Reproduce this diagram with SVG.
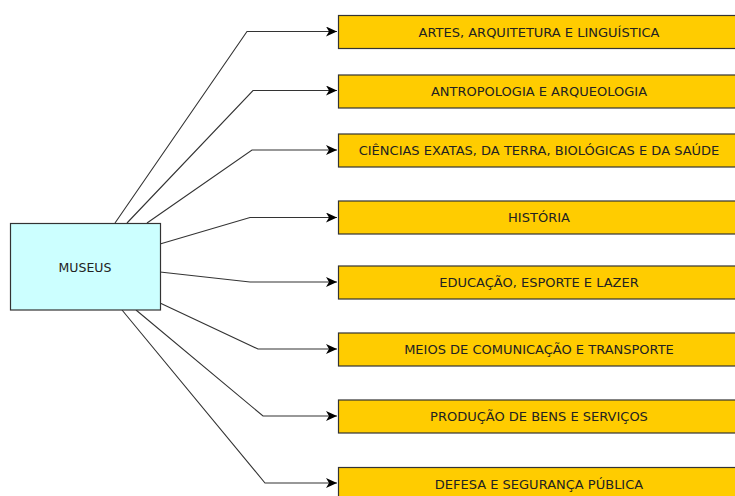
<svg xmlns="http://www.w3.org/2000/svg" width="735" height="496" viewBox="0 0 735 496">
<defs>
<marker id="arr" markerWidth="12" markerHeight="10" viewBox="0 0 12 10" refX="11" refY="5" orient="auto" markerUnits="userSpaceOnUse">
<path d="M0,0 L11,5 L0,10 L3,5 Z" fill="#000"/>
</marker>
<style>
.cat rect{fill:#FFCC00;stroke:#333;stroke-width:1.2}
.cat text,.root text{font-family:"DejaVu Sans","Liberation Sans",sans-serif;font-size:13px;fill:#222;text-anchor:middle;dominant-baseline:central}
.root text{font-size:12.5px}
.root rect{fill:#CCFFFF;stroke:#333;stroke-width:1.2}
#connectors polyline{fill:none;stroke:#333;stroke-width:1.1;marker-end:url(#arr)}
</style>
</defs>
<rect width="735" height="496" fill="#fff"/>
<g id="connectors">
<polyline points="115,223 247,31.5 337,31.5"/>
<polyline points="127,223 253,90.5 337,90.5"/>
<polyline points="147,223 252,150 337,150"/>
<polyline points="160,244 250,217.5 337,217.5"/>
<polyline points="160,272 250,282 337,282"/>
<polyline points="160,303 258,349 337,349"/>
<polyline points="136,310 263,416 337,416"/>
<polyline points="122,310 265,483 337,483"/>
</g>
<g id="museus" class="root"><rect x="10.5" y="223.5" width="150" height="86.5"/><text x="85" y="267">MUSEUS</text></g>
<g id="n1" class="cat"><rect x="338.5" y="15.5" width="400" height="33"/><text x="539" y="32">ARTES, ARQUITETURA E LINGUÍSTICA</text></g>
<g id="n2" class="cat"><rect x="338.5" y="75" width="400" height="33"/><text x="539" y="91.5">ANTROPOLOGIA E ARQUEOLOGIA</text></g>
<g id="n3" class="cat"><rect x="338.5" y="134" width="400" height="33"/><text x="539" y="150.5">CIÊNCIAS EXATAS, DA TERRA, BIOLÓGICAS E DA SAÚDE</text></g>
<g id="n4" class="cat"><rect x="338.5" y="201" width="400" height="33"/><text x="539" y="217.5">HISTÓRIA</text></g>
<g id="n5" class="cat"><rect x="338.5" y="266" width="400" height="33"/><text x="539" y="282.5">EDUCAÇÃO, ESPORTE E LAZER</text></g>
<g id="n6" class="cat"><rect x="338.5" y="333" width="400" height="33"/><text x="539" y="349.5">MEIOS DE COMUNICAÇÃO E TRANSPORTE</text></g>
<g id="n7" class="cat"><rect x="338.5" y="400" width="400" height="33"/><text x="539" y="416.5">PRODUÇÃO DE BENS E SERVIÇOS</text></g>
<g id="n8" class="cat"><rect x="338.5" y="467.5" width="400" height="33"/><text x="539" y="484">DEFESA E SEGURANÇA PÚBLICA</text></g>
</svg>
